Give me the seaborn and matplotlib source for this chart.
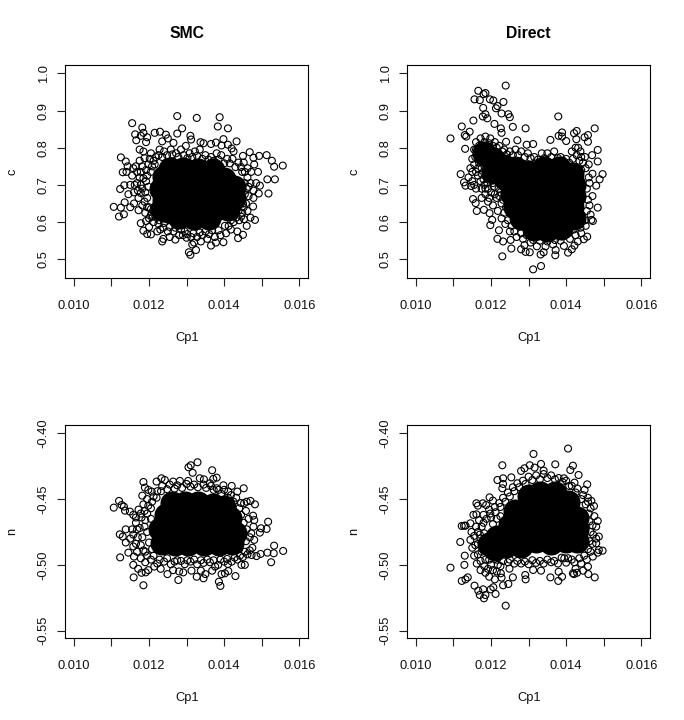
import pandas as pd
import seaborn as sns
import matplotlib.pyplot as plt

# points, (Cp1, value)
# "edge" = single circles you can make out, "ring"/"mid" = the busy band around the middle,
# "core" = the solid overplotted middle
smc_c_edge = [(.01106,.641),(.01120,.615),(.01125,.639),(.01133,.621),(.01135,.653),(.01123,.689),(.01134,.699),(.01125,.774),
    (.01138,.763),(.01130,.734),(.01140,.735),(.01143,.750),(.01155,.866),(.01163,.836),(.01166,.820),(.01182,.854),(.01178,.832),
    (.01185,.840),(.01192,.815),(.01195,.828),(.01215,.840),(.01229,.843),(.01235,.817),(.01245,.835),(.01250,.825),(.01265,.813),
    (.01275,.885),(.01275,.838),(.01288,.852),(.01310,.832),(.01312,.822),(.01327,.880),(.01337,.815),(.01345,.812),(.01365,.810),
    (.01378,.814),(.01383,.857),(.01388,.882),(.01410,.852),(.01398,.823),(.01433,.817),(.01393,.806),(.01410,.808),(.01420,.798),
    (.01425,.790),(.01468,.788),(.01450,.778),(.01478,.773),(.01493,.778),(.01513,.780),(.01527,.765),(.01533,.749),(.01556,.752),
    (.01535,.715),(.01515,.715),(.01518,.677),(.01495,.698),(.01492,.677),(.01485,.705),(.01490,.735),(.01480,.755),(.01478,.685),
    (.01478,.665),(.01477,.642),(.01482,.606),(.01453,.608),(.01460,.590),(.01470,.612),(.01450,.566),(.01437,.557),(.01435,.575),
    (.01418,.580),(.01398,.546),(.01378,.545),(.01365,.537),(.01355,.555),(.01338,.548),(.01325,.525),(.01315,.540),(.01310,.512),
    (.01306,.519),(.01300,.558),(.01320,.545),(.01290,.565),(.01270,.553),(.01255,.560),(.01235,.548),(.01238,.555),(.01222,.575),
    (.01205,.567),(.01195,.568),(.01185,.577),(.01178,.597),(.01192,.603),(.01200,.587),(.01172,.632),(.01160,.650),(.01150,.640),
    (.01160,.680),(.01150,.700),(.01145,.675),(.01185,.790),(.01175,.795)]
smc_c_ring = [(.01165,.750),(.01175,.765),(.01155,.725),(.01168,.705),(.01178,.735),(.01188,.772),(.01198,.755),(.01205,.785),
    (.01218,.775),(.01228,.795),(.01240,.790),(.01258,.795),(.01272,.785),(.01285,.795),(.01298,.805),(.01308,.785),(.01322,.790),
    (.01335,.795),(.01350,.780),(.01365,.775),(.01380,.785),(.01392,.780),(.01408,.770),(.01422,.770),(.01438,.760),(.01452,.760),
    (.01462,.745),(.01472,.735),(.01462,.720),(.01470,.705),(.01460,.690),(.01465,.670),(.01458,.650),(.01462,.630),(.01448,.625),
    (.01440,.605),(.01425,.600),(.01412,.590),(.01405,.570),(.01390,.565),(.01375,.560),(.01360,.568),(.01342,.565),(.01328,.560),
    (.01312,.560),(.01295,.575),(.01280,.565),(.01265,.575),(.01250,.575),(.01238,.585),(.01225,.595),(.01212,.600),(.01205,.620),
    (.01190,.625),(.01182,.645),(.01172,.665),(.01182,.690),(.01170,.685),(.01195,.665),(.01192,.710),(.01200,.640),(.01205,.735),
    (.01185,.718),(.01215,.755),(.01210,.615),(.01448,.735),(.01450,.650),(.01438,.630)]
smc_c_mid = [(.01175,.720),(.01182,.750),(.01192,.740),(.01202,.770),(.01212,.765),(.01225,.780),(.01235,.775),(.01248,.780),
    (.01262,.782),(.01278,.775),(.01292,.780),(.01302,.772),(.01315,.775),(.01328,.778),(.01342,.770),(.01358,.768),(.01372,.765),
    (.01385,.768),(.01400,.758),(.01415,.758),(.01430,.748),(.01445,.748),(.01455,.735),(.01455,.705),(.01465,.695),(.01455,.675),
    (.01452,.640),(.01445,.615),(.01432,.612),(.01418,.605),(.01402,.590),(.01385,.578),(.01368,.578),(.01350,.575),(.01335,.572),
    (.01318,.570),(.01302,.568),(.01285,.580),(.01270,.585),(.01255,.587),(.01240,.598),(.01228,.605),(.01215,.625),(.01205,.635),
    (.01195,.640),(.01188,.655),(.01178,.678),(.01190,.680),(.01198,.695),(.01178,.700),(.01195,.725),(.01208,.750),(.01200,.610),
    (.01220,.612),(.01230,.580),(.01162,.700),(.01168,.735),(.01158,.745)]
smc_c_core = [(.01255,.743),(.01290,.743),(.01330,.740),(.01370,.740),(.01240,.720),(.01280,.720),(.01320,.720),(.01360,.720),(.01400,.715),
    (.01232,.690),(.01270,.690),(.01310,.690),(.01350,.690),(.01390,.690),(.01425,.695),(.01240,.660),(.01280,.660),(.01320,.660),
    (.01360,.660),(.01400,.660),(.01425,.665),(.01250,.630),(.01290,.630),(.01330,.630),(.01370,.630),(.01410,.635),(.01280,.615),
    (.01320,.610),(.01360,.612),(.01235,.635)]

direct_c_edge = [(.01092,.825),(.01122,.857),(.01119,.729),(.01128,.707),(.01132,.698),(.01130,.834),(.01134,.830),(.01131,.797),
    (.01143,.843),(.01153,.873),(.01156,.930),(.01166,.953),(.01170,.928),(.01180,.944),(.01185,.947),(.01179,.907),(.01178,.884),
    (.01185,.890),(.01190,.879),(.01197,.930),(.01206,.927),(.01217,.912),(.01213,.906),(.01233,.923),(.01239,.967),(.01228,.892),
    (.01246,.890),(.01250,.882),(.01209,.864),(.01258,.856),(.01292,.852),(.01270,.820),(.01240,.816),(.01226,.852),(.01228,.840),
    (.01295,.808),(.01312,.810),(.01379,.884),(.01358,.821),(.01380,.832),(.01389,.841),(.01389,.830),(.01400,.818),(.01421,.839),
    (.01428,.845),(.01427,.823),(.01449,.828),(.01458,.834),(.01458,.816),(.01476,.852),(.01484,.794),(.01469,.780),(.01484,.763),
    (.01497,.729),(.01489,.715),(.01480,.698),(.01484,.639),(.01471,.603),(.01467,.606),(.01456,.561),(.01447,.554),(.01431,.548),
    (.01422,.537),(.01415,.527),(.01405,.518),(.01394,.536),(.01371,.511),(.01372,.525),(.01333,.482),(.01312,.473),(.01332,.513),
    (.01340,.519),(.01303,.519),(.01292,.520),(.01280,.527),(.01289,.538),(.01254,.529),(.01230,.508),(.01232,.548),(.01217,.555),
    (.01252,.552),(.01221,.578),(.01198,.592),(.01203,.606),(.01196,.624),(.01181,.633),(.01162,.630),(.01159,.651),(.01152,.662),
    (.01147,.697)]
direct_c_ring = [(.01140,.720),(.01145,.745),(.01150,.770),(.01155,.795),(.01160,.815),(.01172,.825),(.01185,.830),(.01198,.825),
    (.01210,.815),(.01222,.805),(.01235,.795),(.01250,.790),(.01265,.795),(.01280,.790),(.01298,.785),(.01315,.775),(.01335,.785),
    (.01350,.785),(.01368,.790),(.01385,.775),(.01400,.770),(.01415,.790),(.01425,.800),(.01438,.790),(.01450,.775),(.01460,.755),
    (.01470,.730),(.01462,.705),(.01470,.670),(.01462,.645),(.01465,.620),(.01452,.590),(.01440,.570),(.01425,.565),(.01410,.555),
    (.01385,.550),(.01365,.540),(.01345,.535),(.01322,.535),(.01305,.545),(.01285,.555),(.01268,.560),(.01250,.575),(.01238,.595),
    (.01228,.610),(.01218,.630),(.01205,.645),(.01192,.655),(.01175,.665),(.01160,.690),(.01165,.725),(.01175,.745),(.01165,.775),
    (.01185,.690),(.01200,.680),(.01180,.715),(.01195,.735),(.01215,.665),(.01172,.790),(.01190,.760),(.01190,.800),(.01208,.790),
    (.01205,.705),(.01220,.690),(.01205,.750),(.01225,.775),(.01178,.775),(.01440,.740),(.01435,.765)]
direct_c_mid = [(.01150,.735),(.01155,.755),(.01158,.775),(.01150,.710),(.01155,.700),(.01165,.745),(.01172,.710),(.01175,.690),
    (.01185,.675),(.01190,.705),(.01198,.720),(.01185,.745),(.01195,.665),(.01210,.675),(.01212,.720),(.01222,.670),(.01228,.650),
    (.01235,.625),(.01215,.740),(.01245,.605),(.01255,.590),(.01262,.575),(.01280,.570),(.01295,.565),(.01312,.552),(.01330,.550),
    (.01350,.548),(.01370,.552),(.01390,.562),(.01405,.570),(.01420,.580),(.01438,.585),(.01450,.605),(.01455,.630),(.01458,.660),
    (.01455,.690),(.01460,.720),(.01452,.745),(.01445,.760),(.01428,.780),(.01418,.770),(.01408,.760),(.01392,.765),(.01378,.772),
    (.01360,.775),(.01342,.772),(.01325,.768),(.01305,.772),(.01290,.775),(.01272,.780),(.01258,.780),(.01242,.782),(.01230,.790),
    (.01215,.800),(.01205,.805),(.01195,.812),(.01182,.815),(.01168,.805),(.01160,.795),(.01432,.800),(.01440,.775),
    (.01168,.760),(.01175,.730),(.01182,.700),(.01192,.690),(.01200,.735),(.01208,.695),(.01218,.710),(.01225,.680),(.01232,.660),
    (.01240,.640),(.01188,.730),(.01160,.735),(.01178,.760)]
direct_c_core = [(.01180,.785),(.01205,.770),(.01235,.750),(.01265,.745),(.01300,.735),(.01340,.745),(.01380,.745),(.01415,.730),
    (.01240,.715),(.01270,.710),(.01310,.705),(.01350,.710),(.01390,.705),(.01420,.700),(.01255,.675),(.01290,.675),(.01330,.675),
    (.01370,.675),(.01410,.675),(.01422,.670),(.01265,.640),(.01295,.640),(.01335,.640),(.01375,.640),(.01415,.640),(.01280,.610),
    (.01315,.605),(.01355,.605),(.01395,.605),(.01420,.612),(.01315,.582),(.01350,.580),(.01385,.585),(.01205,.735)]

smc_n_edge = [(.01106,-.4565),(.01120,-.4514),(.01127,-.4545),(.01133,-.4557),(.01136,-.4588),(.01149,-.4595),(.01122,-.4768),
    (.01138,-.4730),(.01130,-.4785),(.01138,-.4830),(.01123,-.4943),(.01145,-.4907),(.01160,-.4937),(.01158,-.5000),(.01159,-.5095),
    (.01171,-.5030),(.01180,-.5060),(.01191,-.5057),(.01185,-.5155),(.01198,-.5040),(.01214,-.5013),(.01231,-.5030),(.01249,-.5070),
    (.01264,-.5040),(.01278,-.5115),(.01280,-.5050),(.01291,-.5057),(.01313,-.5044),(.01327,-.5090),(.01338,-.5044),(.01345,-.5102),
    (.01350,-.5070),(.01368,-.5044),(.01386,-.5128),(.01390,-.5160),(.01393,-.5070),(.01402,-.5064),(.01411,-.5047),(.01430,-.5085),
    (.01410,-.4993),(.01384,-.5000),(.01376,-.5013),(.01446,-.5000),(.01455,-.5000),(.01473,-.4925),(.01486,-.4933),(.01497,-.4917),
    (.01515,-.4907),(.01525,-.4980),(.01532,-.4912),(.01533,-.4854),(.01557,-.4894),(.01513,-.4727),(.01517,-.4672),(.01498,-.4722),
    (.01495,-.4755),(.01480,-.4660),(.01477,-.4626),(.01482,-.4540),(.01470,-.4514),(.01460,-.4520),(.01453,-.4532),(.01452,-.4418),
    (.01435,-.4443),(.01420,-.4400),(.01411,-.4443),(.01398,-.4395),(.01380,-.4418),(.01380,-.4337),(.01371,-.4347),(.01368,-.4281),
    (.01362,-.4380),(.01346,-.4350),(.01335,-.4342),(.01329,-.4220),(.01316,-.4300),(.01311,-.4243),(.01305,-.4258),(.01304,-.4362),
    (.01282,-.4362),(.01264,-.4367),(.01242,-.4355),(.01233,-.4342),(.01220,-.4367),(.01185,-.4370),(.01189,-.4413),(.01198,-.4430),
    (.01207,-.4443),(.01182,-.4474)]
smc_n_ring = [(.01158,-.4620),(.01165,-.4680),(.01155,-.4730),(.01150,-.4800),(.01158,-.4860),(.01168,-.4900),(.01178,-.4950),
    (.01190,-.4980),(.01205,-.4960),(.01222,-.4990),(.01240,-.4975),(.01258,-.4995),(.01275,-.4965),(.01295,-.4995),(.01310,-.4975),
    (.01328,-.4995),(.01345,-.4985),(.01362,-.4980),(.01400,-.4975),(.01420,-.4975),(.01435,-.4960),(.01450,-.4940),(.01462,-.4920),
    (.01475,-.4870),(.01480,-.4810),(.01472,-.4760),(.01478,-.4710),(.01465,-.4650),(.01458,-.4590),(.01445,-.4530),(.01432,-.4490),
    (.01418,-.4470),(.01400,-.4430),(.01385,-.4430),(.01365,-.4400),(.01345,-.4390),(.01320,-.4390),(.01300,-.4385),(.01275,-.4395),
    (.01255,-.4390),(.01235,-.4400),(.01222,-.4440),(.01212,-.4480),(.01195,-.4500),(.01185,-.4540),(.01172,-.4580),(.01180,-.4640),
    (.01175,-.4720),(.01170,-.4790),(.01178,-.4850),(.01190,-.4900),(.01190,-.4660),(.01195,-.4750),(.01200,-.4830),(.01205,-.4570)]
smc_n_mid = [(.01440,-.4880),(.01458,-.4820),(.01460,-.4730),(.01445,-.4620),(.01468,-.4890),(.01455,-.4900),(.01468,-.4790),
    (.01452,-.4680),(.01440,-.4570),(.01425,-.4520),(.01410,-.4490),(.01392,-.4460),(.01372,-.4430),(.01352,-.4415),(.01330,-.4410),
    (.01310,-.4405),(.01288,-.4415),(.01268,-.4420),(.01248,-.4425),(.01232,-.4440),(.01220,-.4490),(.01208,-.4520),(.01198,-.4550),
    (.01188,-.4590),(.01178,-.4610),(.01165,-.4640),(.01168,-.4730),(.01158,-.4770),(.01165,-.4840),(.01182,-.4790),(.01188,-.4710),
    (.01195,-.4610),(.01205,-.4650),(.01208,-.4880),(.01212,-.4930),(.01195,-.4930),(.01185,-.4890),(.01228,-.4960),(.01248,-.4950),
    (.01268,-.4975),(.01285,-.4970),(.01302,-.4965),(.01320,-.4960),(.01338,-.4965),(.01355,-.4960),(.01372,-.4965),(.01390,-.4960),
    (.01408,-.4955),(.01428,-.4945),(.01442,-.4930)]
smc_n_core = [(.01260,-.4530),(.01295,-.4530),(.01330,-.4530),(.01370,-.4545),(.01400,-.4560),(.01245,-.4620),(.01280,-.4620),(.01310,-.4620),
    (.01345,-.4620),(.01385,-.4620),(.01415,-.4640),(.01230,-.4730),(.01265,-.4730),(.01300,-.4730),(.01335,-.4730),(.01375,-.4730),
    (.01415,-.4730),(.01430,-.4760),(.01235,-.4830),(.01270,-.4840),(.01305,-.4840),(.01345,-.4840),(.01385,-.4840),(.01420,-.4830)]

direct_n_edge = [(.01092,-.5021),(.01122,-.5122),(.01132,-.5110),(.01138,-.5095),(.01129,-.5000),(.01118,-.4826),(.01130,-.4930),
    (.01122,-.4704),(.01128,-.4702),(.01132,-.4702),(.01145,-.4684),(.01153,-.4620),(.01161,-.4616),(.01161,-.4532),(.01165,-.4550),
    (.01178,-.4532),(.01187,-.4545),(.01196,-.4487),(.01205,-.4512),(.01156,-.5158),(.01166,-.5196),(.01170,-.5229),(.01179,-.5186),
    (.01181,-.5254),(.01185,-.5229),(.01199,-.5186),(.01206,-.5170),(.01212,-.5221),(.01232,-.5155),(.01246,-.5145),(.01239,-.5310),
    (.01228,-.5097),(.01226,-.5064),(.01258,-.5095),(.01249,-.5029),(.01291,-.5077),(.01292,-.5110),(.01312,-.5039),(.01333,-.5044),
    (.01358,-.5095),(.01379,-.5122),(.01389,-.5090),(.01380,-.5052),(.01400,-.4983),(.01418,-.5064),(.01421,-.5070),(.01429,-.5060),
    (.01445,-.5044),(.01458,-.5013),(.01459,-.5070),(.01476,-.5095),(.01471,-.4937),(.01484,-.4907),(.01497,-.4892),(.01487,-.4887),
    (.01480,-.4836),(.01487,-.4785),(.01480,-.4800),(.01484,-.4667),(.01480,-.4709),(.01474,-.4553),(.01467,-.4514),(.01458,-.4520),
    (.01456,-.4388),(.01449,-.4430),(.01433,-.4317),(.01422,-.4375),(.01418,-.4246),(.01411,-.4279),(.01405,-.4116),(.01394,-.4342),
    (.01371,-.4236),(.01333,-.4233),(.01340,-.4284),(.01313,-.4157),(.01316,-.4261),(.01303,-.4243),(.01289,-.4266),(.01280,-.4286),
    (.01254,-.4335),(.01230,-.4243),(.01232,-.4342),(.01217,-.4355),(.01232,-.4385),(.01230,-.4418)]
direct_n_ring = [(.01148,-.4750),(.01145,-.4810),(.01150,-.4870),(.01155,-.4930),(.01162,-.4990),(.01172,-.5040),(.01185,-.5060),
    (.01195,-.5090),(.01210,-.5110),(.01225,-.5010),(.01215,-.5050),(.01245,-.4980),(.01262,-.4990),(.01280,-.4990),(.01300,-.4995),
    (.01320,-.4985),(.01340,-.4990),(.01360,-.4980),(.01378,-.4990),(.01395,-.4950),(.01415,-.4960),(.01425,-.5030),(.01440,-.4990),
    (.01455,-.4960),(.01465,-.4900),(.01470,-.4840),(.01472,-.4770),(.01470,-.4700),(.01475,-.4630),(.01465,-.4570),(.01458,-.4490),
    (.01445,-.4470),(.01430,-.4420),(.01415,-.4400),(.01400,-.4360),(.01380,-.4340),(.01360,-.4320),(.01340,-.4310),(.01320,-.4320),
    (.01300,-.4330),(.01285,-.4360),(.01270,-.4380),(.01258,-.4410),(.01245,-.4450),(.01232,-.4490),(.01222,-.4530),(.01210,-.4560),
    (.01195,-.4580),(.01180,-.4620),(.01168,-.4660),(.01160,-.4710),(.01170,-.4770),(.01165,-.4840),(.01175,-.4900),(.01185,-.4960),
    (.01180,-.4680),(.01200,-.4640),(.01200,-.4760),(.01190,-.4820),(.01205,-.4880),(.01215,-.4960),(.01200,-.5000),(.01225,-.4630)]
direct_n_mid = [(.01155,-.4780),(.01158,-.4850),(.01165,-.4920),(.01172,-.4970),(.01182,-.5010),(.01192,-.5030),(.01205,-.5040),
    (.01218,-.5000),(.01232,-.4970),(.01250,-.4960),(.01270,-.4970),(.01290,-.4975),(.01310,-.4965),(.01330,-.4970),(.01350,-.4960),
    (.01368,-.4970),(.01388,-.4945),(.01405,-.4950),(.01422,-.4980),(.01435,-.4950),(.01448,-.4930),(.01458,-.4880),(.01462,-.4820),
    (.01465,-.4750),(.01462,-.4670),(.01460,-.4610),(.01452,-.4540),(.01440,-.4500),(.01425,-.4450),(.01408,-.4400),(.01390,-.4370),
    (.01370,-.4350),(.01350,-.4340),(.01330,-.4350),(.01310,-.4355),(.01292,-.4385),(.01275,-.4410),(.01262,-.4440),(.01250,-.4480),
    (.01238,-.4520),(.01225,-.4560),(.01212,-.4600),(.01198,-.4610),(.01188,-.4650),(.01175,-.4710),(.01182,-.4760),(.01178,-.4840),
    (.01188,-.4900),(.01195,-.4960),(.01205,-.4690),(.01215,-.4650),(.01210,-.4750),(.01172,-.4800),(.01165,-.4750)]
direct_n_core = [(.01300,-.4480),(.01330,-.4450),(.01370,-.4450),(.01405,-.4520),(.01265,-.4590),(.01290,-.4590),(.01330,-.4570),
    (.01370,-.4570),(.01410,-.4610),(.01430,-.4640),(.01250,-.4700),(.01280,-.4710),(.01320,-.4700),(.01360,-.4700),(.01400,-.4710),
    (.01430,-.4730),(.01215,-.4790),(.01250,-.4810),(.01280,-.4830),(.01320,-.4820),(.01360,-.4830),(.01400,-.4820),(.01430,-.4820),
    (.01210,-.4880),(.01240,-.4860),(.01280,-.4860),(.01195,-.4840)]

titles = ["SMC", "Direct", "", ""]
ylabels = ["c", "c", "n", "n"]
panels = [(smc_c_edge, smc_c_ring, smc_c_mid, smc_c_core), (direct_c_edge, direct_c_ring, direct_c_mid, direct_c_core),
          (smc_n_edge, smc_n_ring, smc_n_mid, smc_n_core), (direct_n_edge, direct_n_ring, direct_n_mid, direct_n_core)]

x_ticks = [.010, .011, .012, .013, .014, .015, .016]
x_labels = ["0.010", "", "0.012", "", "0.014", "", "0.016"]
c_ticks = [.5, .6, .7, .8, .9, 1.0]
c_labels = ["0.5", "0.6", "0.7", "0.8", "0.9", "1.0"]
n_ticks = [-.55, -.50, -.45, -.40]
n_labels = ["-0.55", "-0.50", "-0.45", "-0.40"]

W, H = 684, 720
boxes = [(65.3, 65, 243, 213.3), (407.3, 65, 243, 213.3), (65.3, 425, 243, 213.3), (407.3, 425, 243, 213.3)]


def make_plot():
    sns.set_style("ticks")
    plt.rcParams["font.family"] = ["Liberation Sans", "DejaVu Sans"]
    fig = plt.figure(figsize=(W / 100, H / 100), dpi=100, facecolor="white")

    for i, (edge, ring, mid, core) in enumerate(panels):
        l, t, w, h = boxes[i]
        ax = fig.add_axes([l / W, 1 - (t + h) / H, w / W, h / H])

        # solid middle first, then the open circles on top
        core_df = pd.DataFrame(core, columns=["Cp1", ylabels[i]])
        sns.scatterplot(data=core_df, x="Cp1", y=ylabels[i], ax=ax, color="black", s=300, linewidth=0)
        open_df = pd.DataFrame(edge + ring + mid, columns=["Cp1", ylabels[i]])
        sns.scatterplot(data=open_df, x="Cp1", y=ylabels[i], ax=ax, facecolor="none",
                        edgecolor="black", s=25, linewidth=0.8)

        ax.set_xlim(.00977, .01624)
        ax.set_xticks(x_ticks, x_labels)
        if i < 2:
            ax.set_ylim(.449, 1.0223)
            ax.set_yticks(c_ticks, c_labels)
        else:
            ax.set_ylim(-.5558, -.3937)
            ax.set_yticks(n_ticks, n_labels)

        ax.tick_params(length=5.8, width=0.8, labelsize=9.3, color="#222222", labelcolor="#111111")
        ax.tick_params(axis="x", pad=10)
        ax.tick_params(axis="y", pad=5.5)
        plt.setp(ax.get_yticklabels(), rotation=90, va="center")
        ax.set_xlabel("Cp1", fontsize=9.3, color="#111111", labelpad=14)
        ax.set_ylabel(ylabels[i], fontsize=9.3, color="#111111", labelpad=14)
        ax.set_title(titles[i], fontsize=11.3, fontweight="bold", pad=19.5, color="black")
        for s in ax.spines.values():
            s.set_linewidth(0.8)
            s.set_color("black")
            s.set_visible(True)

    fig.savefig("out.png", dpi=100)
    plt.close()


if __name__ == "__main__":
    make_plot()
